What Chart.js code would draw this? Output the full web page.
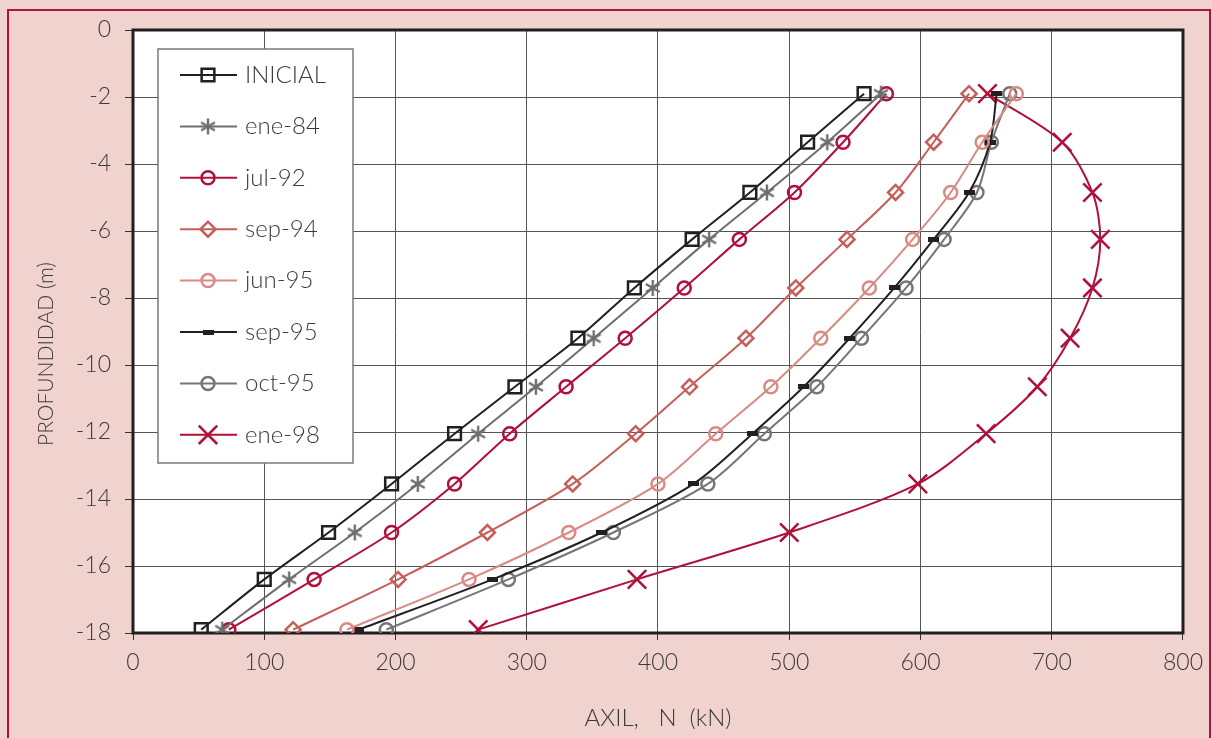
<!DOCTYPE html>
<html>
<head>
<meta charset="utf-8">
<title>Axil - profundidad</title>
<script src="https://cdn.jsdelivr.net/npm/chart.js@4.4.1/dist/chart.umd.min.js"></script>
<style>
  html, body { margin: 0; padding: 0; background: #f0d2ce; }
  #wrap { width: 1212px; height: 738px; }
</style>
</head>
<body>
<div id="wrap"><canvas id="axil-chart" width="1212" height="738"></canvas></div>
<script>
/* ---------- data: axial load N (kN) per depth ---------- */
const depths = [-1.9, -3.35, -4.85, -6.25, -7.7, -9.2, -10.65, -12.05, -13.55, -15.0, -16.4, -17.9];

const inicial = [557, 514, 470, 426, 382, 339, 291, 245, 197, 149, 100, 52];
const ene84   = [570, 529, 483, 439, 396, 351, 307, 263, 217, 169, 119, 68];
const jul92   = [574, 541, 504, 462, 420, 375, 330, 287, 245, 197, 138, 73];
const sep94   = [637, 610, 581, 544, 505, 467, 424, 383, 335, 270, 202, 122];
const jun95   = [673, 647, 623, 594, 561, 524, 486, 444, 400, 332, 256, 163];
const sep95   = [658, 653, 637, 610, 580, 546, 511, 472, 427, 357, 274, 172];
const oct95   = [668, 654, 643, 618, 589, 555, 521, 481, 438, 366, 286, 193];
const ene98   = [651, 708, 731, 737, 731, 714, 689, 650, 598, 500, 384, 263];

const xTicks = { min: 0, max: 800, step: 100 };
const yTicks = { min: -18, max: 0, step: 2 };

const FONT = "Lato, 'Open Sans', sans-serif";
const TEXT = "#3a3a3a";
const Y_TITLE = "PROFUNDIDAD (m)";

/* ---------- custom markers ---------- */
function makeAsterisk(color) {
  const c = document.createElement("canvas");
  c.width = 18; c.height = 18;
  const g = c.getContext("2d");
  g.strokeStyle = color;
  g.lineWidth = 2.4;
  [90, 30, 150].forEach(deg => {
    const r = deg * Math.PI / 180;
    g.beginPath();
    g.moveTo(9 - Math.cos(r) * 8, 9 - Math.sin(r) * 8);
    g.lineTo(9 + Math.cos(r) * 8, 9 + Math.sin(r) * 8);
    g.stroke();
  });
  return c;
}

function makeDash(color) {
  const c = document.createElement("canvas");
  c.width = 11; c.height = 5;
  const g = c.getContext("2d");
  g.fillStyle = color;
  g.fillRect(0, 0, 11, 5);
  return c;
}

/* ---------- datasets ---------- */
function series(label, values, color, style, radius) {
  return {
    label: label,
    data: values.map((v, i) => ({ x: v, y: depths[i] })),
    borderColor: color,
    backgroundColor: color,
    borderWidth: 2,
    tension: 0.3,
    showLine: true,
    pointStyle: style,
    pointRadius: radius,
    pointBorderWidth: 2.5,
    pointBorderColor: color,
    pointBackgroundColor: "rgba(0,0,0,0)"
  };
}

const datasets = [
  series("INICIAL", inicial, "#231f20", "rect", 9),
  series("ene-84",  ene84,   "#6e6e6e", makeAsterisk("#6e6e6e"), 9),
  series("jul-92",  jul92,   "#b0103a", "circle", 6.5),
  series("sep-94",  sep94,   "#c65e5a", "rectRot", 7.5),
  series("jun-95",  jun95,   "#da8a84", "circle", 6.5),
  series("sep-95",  sep95,   "#231f20", makeDash("#231f20"), 5),
  series("oct-95",  oct95,   "#767676", "circle", 6.5),
  series("ene-98",  ene98,   "#b0103a", "crossRot", 13)
];

/* ---------- background, frame, y title and inner legend ---------- */
const framePlugin = {
  id: "frame",
  beforeDraw(chart) {
    const { ctx, width, height, chartArea: a } = chart;
    ctx.save();
    ctx.fillStyle = "#f0d2ce";
    ctx.fillRect(0, 0, width, height);
    ctx.strokeStyle = "#b3123c";
    ctx.lineWidth = 2;
    ctx.strokeRect(8, 10, width - 10, height);
    ctx.fillStyle = "#ffffff";
    ctx.fillRect(a.left, a.top, a.right - a.left, a.bottom - a.top);

    // vertical axis title, sitting a little below the middle of the axis
    ctx.translate(46, 354);
    ctx.rotate(-Math.PI / 2);
    ctx.font = "300 21px " + FONT;
    ctx.fillStyle = TEXT;
    ctx.textAlign = "center";
    ctx.textBaseline = "middle";
    ctx.fillText(Y_TITLE, 0, 0);
    ctx.restore();
  },
  beforeDatasetsDraw(chart) {
    const { ctx, chartArea: a } = chart;
    ctx.save();
    ctx.strokeStyle = "#231f20";
    ctx.lineWidth = 3;
    ctx.strokeRect(a.left, a.top, a.right - a.left, a.bottom - a.top);
    ctx.restore();
  },
  afterDatasetsDraw(chart) {
    const { ctx, chartArea: a } = chart;
    const boxX = a.left + 25, boxY = a.top + 19, boxW = 195, boxH = 414;
    ctx.save();
    ctx.fillStyle = "#ffffff";
    ctx.fillRect(boxX, boxY, boxW, boxH);
    ctx.strokeStyle = "#7a7a7a";
    ctx.lineWidth = 1.5;
    ctx.strokeRect(boxX, boxY, boxW, boxH);

    ctx.font = "300 24px " + FONT;
    ctx.textBaseline = "middle";
    chart.data.datasets.forEach((ds, i) => {
      const y = boxY + 26 + i * 51.4;
      ctx.strokeStyle = ds.borderColor;
      ctx.lineWidth = 2;
      ctx.beginPath();
      ctx.moveTo(boxX + 22, y);
      ctx.lineTo(boxX + 79, y);
      ctx.stroke();
      ctx.lineWidth = ds.pointBorderWidth;
      ctx.fillStyle = "rgba(0,0,0,0)";
      Chart.helpers.drawPoint(ctx, {
        pointStyle: ds.pointStyle,
        radius: ds.pointRadius,
        borderWidth: ds.pointBorderWidth,
        rotation: 0
      }, boxX + 50, y);
      ctx.fillStyle = TEXT;
      ctx.fillText(ds.label, boxX + 87, y);
    });
    ctx.restore();
  }
};

/* ---------- chart ---------- */
new Chart(document.getElementById("axil-chart"), {
  type: "scatter",
  data: { datasets: datasets },
  plugins: [framePlugin],
  options: {
    responsive: false,
    animation: false,
    events: [],
    layout: { padding: { top: 30, right: 28, left: 0, bottom: 0 } },
    plugins: {
      legend: { display: false },
      tooltip: { enabled: false }
    },
    scales: {
      x: {
        type: "linear",
        min: xTicks.min,
        max: xTicks.max,
        afterFit(scale) { scale.height = 105; },
        ticks: {
          stepSize: xTicks.step,
          color: TEXT,
          padding: 9,
          font: { family: FONT, size: 23, weight: 300 }
        },
        grid: { color: "#555555", lineWidth: 1, tickLength: 7, tickColor: "#333333" },
        border: { display: false },
        title: {
          display: true,
          text: "AXIL,   N  (kN)",
          color: TEXT,
          padding: { top: 0, bottom: 5 },
          font: { family: FONT, size: 24, weight: 300 }
        }
      },
      y: {
        type: "linear",
        min: yTicks.min,
        max: yTicks.max,
        afterFit(scale) { scale.width = 133; },
        ticks: {
          stepSize: yTicks.step,
          color: TEXT,
          padding: 14,
          font: { family: FONT, size: 23, weight: 300 }
        },
        grid: { color: "#555555", lineWidth: 1, tickLength: 8, tickColor: "#333333" },
        border: { display: false }
      }
    }
  }
});
</script>
</body>
</html>
